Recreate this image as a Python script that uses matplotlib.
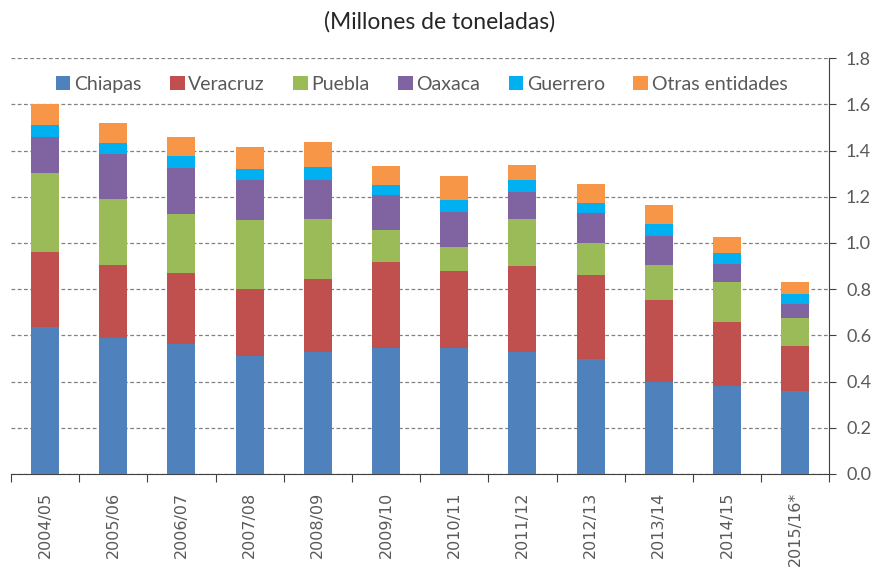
import numpy as np
import matplotlib
matplotlib.use("Agg")
import matplotlib.pyplot as plt

# Producción por entidad, millones de toneladas
seasons = ["2004/05", "2005/06", "2006/07", "2007/08", "2008/09", "2009/10",
           "2010/11", "2011/12", "2012/13", "2013/14", "2014/15", "2015/16*"]
chiapas = [0.636, 0.587, 0.564, 0.510, 0.528, 0.545, 0.545, 0.530, 0.496, 0.399, 0.381, 0.361]
veracruz = [0.324, 0.317, 0.306, 0.289, 0.318, 0.374, 0.335, 0.369, 0.366, 0.355, 0.276, 0.191]
puebla = [0.344, 0.287, 0.256, 0.302, 0.260, 0.138, 0.101, 0.205, 0.138, 0.150, 0.173, 0.122]
oaxaca = [0.157, 0.193, 0.200, 0.170, 0.165, 0.152, 0.155, 0.118, 0.129, 0.128, 0.080, 0.062]
guerrero = [0.048, 0.049, 0.049, 0.049, 0.059, 0.040, 0.051, 0.049, 0.043, 0.049, 0.047, 0.045]
otras = [0.091, 0.086, 0.084, 0.096, 0.108, 0.084, 0.101, 0.067, 0.085, 0.083, 0.069, 0.052]

series = [("Chiapas", chiapas, "#4F81BD"),
          ("Veracruz", veracruz, "#C0504D"),
          ("Puebla", puebla, "#9BBB59"),
          ("Oaxaca", oaxaca, "#8064A2"),
          ("Guerrero", guerrero, "#00B0F0"),
          ("Otras entidades", otras, "#F79646")]

text_gray = "#595959"

fig = plt.figure(figsize=(8.79, 5.71), dpi=100)
ax = fig.add_axes([0.0125, 0.170, 0.931, 0.728])

x = np.arange(len(seasons))
bottom = np.zeros(len(seasons))
for name, vals, color in series:
    ax.bar(x, vals, 0.41, bottom=bottom, color=color, label=name, zorder=3)
    bottom += np.array(vals)

ax.set_xlim(-0.5, len(seasons) - 0.5)
ax.set_ylim(0, 1.8)
yticks = np.arange(0, 1.81, 0.2)
ax.set_yticks(yticks)
ax.yaxis.tick_right()
ax.set_yticklabels([f"{v:.1f}" for v in yticks], fontsize=13, color=text_gray, family="Lato")
ax.tick_params(axis="y", direction="out", length=5, color="#404040", pad=7)
ax.grid(axis="y", linestyle=(0, (3, 2)), color="#808080", linewidth=0.9, zorder=0)

# category boundaries carry the tick marks, labels sit under each bar
ax.set_xticks(np.arange(-0.5, len(seasons), 1.0))
ax.set_xticklabels([])
ax.tick_params(axis="x", direction="out", length=6, color="#404040")
for i, s in enumerate(seasons):
    ax.text(i, -0.042, s, rotation=90, ha="center", va="top", fontsize=11.5,
            color=text_gray, transform=ax.get_xaxis_transform(), family="DejaVu Sans")

for side in ["top", "left"]:
    ax.spines[side].set_visible(False)
ax.spines["right"].set_color("#404040")
ax.spines["bottom"].set_color("#404040")

leg = ax.legend(loc="upper center", bbox_to_anchor=(0.502, 1.0), ncol=6, frameon=False,
                handlelength=0.75, handleheight=0.75, handletextpad=0.2, columnspacing=1.45,
                prop={"family": "Lato", "size": 14})
for t in leg.get_texts():
    t.set_color(text_gray)

fig.text(0.5, 0.962, "(Millones de toneladas)", ha="center", va="center",
         fontsize=16.5, color="#262626", family="Lato")

fig.savefig("out.png", dpi=100)
